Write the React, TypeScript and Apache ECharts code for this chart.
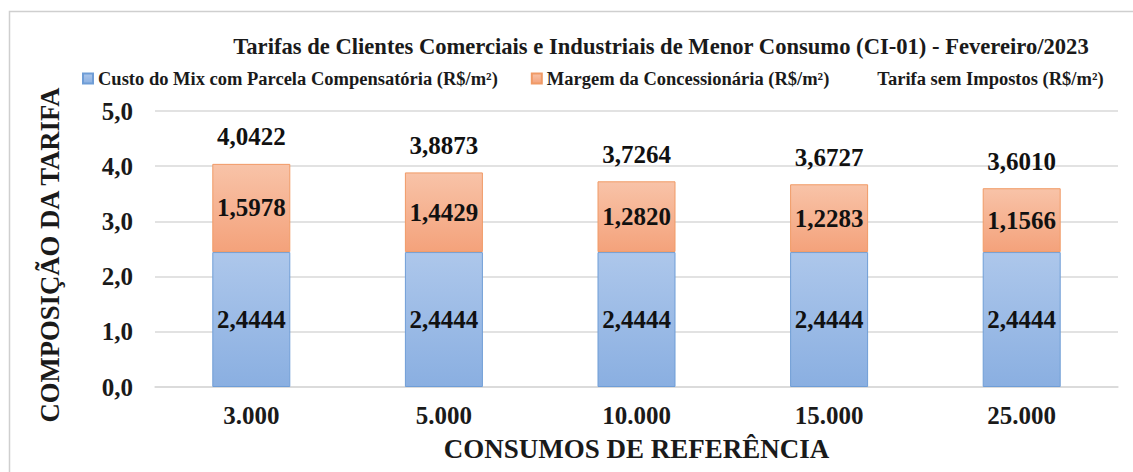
import React, { useEffect, useRef } from "react";
import * as echarts from "echarts";

const categories = ["3.000", "5.000", "10.000", "15.000", "25.000"];
const custoMix = [2.4444, 2.4444, 2.4444, 2.4444, 2.4444];
const margem = [1.5978, 1.4429, 1.282, 1.2283, 1.1566];
const tarifa = [4.0422, 3.8873, 3.7264, 3.6727, 3.601];
const yTicks = { min: 0, max: 5, interval: 1 };

const seriesNames = [
  "Custo do Mix com Parcela Compensatória (R$/m²)",
  "Margem da Concessionária (R$/m²)",
  "Tarifa sem Impostos (R$/m²)",
];
const titleText =
  "Tarifas de Clientes Comerciais e Industriais de Menor Consumo (CI-01) - Fevereiro/2023";

const FONT = "Liberation Serif";
const fmt4 = (v: number) => v.toFixed(4).replace(".", ",");

export default function App() {
  const ref = useRef<HTMLDivElement>(null);
  useEffect(() => {
    if (!ref.current) return;
    const chart = echarts.init(ref.current, null, { renderer: "svg" });
    const labelStyle = {
      show: true,
      position: "inside" as const,
      fontFamily: FONT,
      fontWeight: "bold" as const,
      fontSize: 25,
      color: "#111",
      formatter: (p: any) => fmt4(p.value),
    };
    chart.setOption({
      animation: false,
      backgroundColor: "#fff",
      textStyle: { fontFamily: FONT },
      title: {
        text: titleText,
        left: 656,
        textAlign: "center",
        top: 30,
        textStyle: { fontFamily: FONT, fontWeight: "bold", fontSize: 22.6, color: "#1a1a1a" },
      },
      legend: {
        left: 77,
        top: 64,
        itemWidth: 10,
        itemHeight: 10,
        itemGap: 33,
        textStyle: { fontFamily: FONT, fontWeight: "bold", fontSize: 18.5, color: "#1a1a1a" },
        data: [
          { name: seriesNames[0], icon: "rect" },
          { name: seriesNames[1], icon: "rect" },
          { name: seriesNames[2], icon: "rect", itemStyle: { opacity: 0 } },
        ],
      },
      graphic: [
        {
          type: "rect",
          shape: { x: 9.5, y: 11.5, width: 1200, height: 500 },
          style: { fill: "none", stroke: "#cfcfcf", lineWidth: 1.5 },
          silent: true,
        },
      ],
      grid: { left: 155, right: 15, top: 111, bottom: 85 },
      xAxis: {
        type: "category",
        data: categories,
        axisTick: { show: false },
        axisLine: { lineStyle: { color: "#d9d9d9", width: 1.5 } },
        axisLabel: {
          fontFamily: FONT,
          fontWeight: "bold",
          fontSize: 25,
          color: "#1a1a1a",
          margin: 16,
        },
        name: "CONSUMOS DE REFERÊNCIA",
        nameLocation: "middle",
        nameGap: 48,
        nameTextStyle: { fontFamily: FONT, fontWeight: "bold", fontSize: 27, color: "#1a1a1a" },
      },
      yAxis: {
        type: "value",
        min: yTicks.min,
        max: yTicks.max,
        interval: yTicks.interval,
        axisLine: { show: false },
        axisTick: { show: false },
        splitLine: { lineStyle: { color: "#d9d9d9", width: 1.5 } },
        axisLabel: {
          fontFamily: FONT,
          fontWeight: "bold",
          fontSize: 25,
          color: "#1a1a1a",
          margin: 22,
          formatter: (v: number) => v.toFixed(1).replace(".", ","),
        },
        name: "COMPOSIÇÃO DA TARIFA",
        nameLocation: "middle",
        nameGap: 92,
        nameRotate: 90,
        nameTextStyle: {
          fontFamily: FONT,
          fontWeight: "bold",
          fontSize: 26.7,
          color: "#1a1a1a",
          padding: [0, 12, 0, 0],
        },
      },
      series: [
        {
          name: seriesNames[0],
          type: "bar",
          stack: "total",
          barWidth: 78,
          data: custoMix,
          itemStyle: {
            color: new echarts.graphic.LinearGradient(0, 0, 0, 1, [
              { offset: 0, color: "#adc7eb" },
              { offset: 1, color: "#8aafe1" },
            ]),
            borderColor: "#6f9dd6",
            borderWidth: 1,
          },
          label: labelStyle,
        },
        {
          name: seriesNames[1],
          type: "bar",
          stack: "total",
          barWidth: 78,
          data: margem,
          itemStyle: {
            color: new echarts.graphic.LinearGradient(0, 0, 0, 1, [
              { offset: 0, color: "#f8c3a8" },
              { offset: 1, color: "#f4a27b" },
            ]),
            borderColor: "#f09a66",
            borderWidth: 1,
          },
          label: labelStyle,
        },
        {
          name: seriesNames[2],
          type: "line",
          data: tarifa,
          symbol: "circle",
          symbolSize: 1,
          itemStyle: { color: "rgba(0,0,0,0)" },
          lineStyle: { width: 0, opacity: 0 },
          label: {
            show: true,
            position: "top",
            distance: 14,
            fontFamily: FONT,
            fontWeight: "bold",
            fontSize: 25,
            color: "#111",
            formatter: (p: any) => fmt4(p.value),
          },
          z: 5,
        },
      ],
    });
    return () => chart.dispose();
  }, []);
  return (
    <div
      ref={ref}
      style={{ position: "fixed", left: 0, top: 0, width: 1133, height: 472 }}
    />
  );
}
